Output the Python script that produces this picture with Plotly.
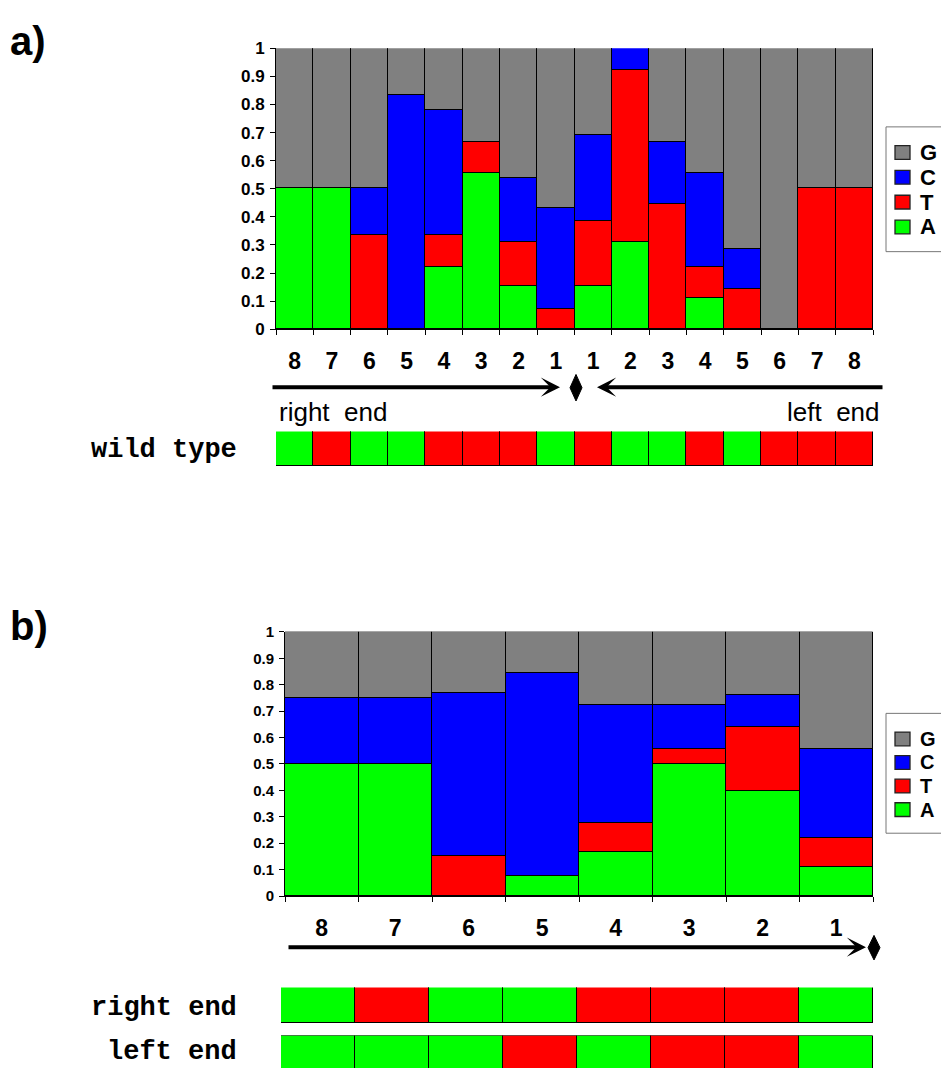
import plotly.graph_objects as go

W, H = 941, 1078

# ---------------- data ----------------
bases = ["A", "T", "C", "G"]
base_colors = {"A": "#00FF00", "T": "#FF0000", "C": "#0000FF", "G": "#808080"}

a_labels = ["8", "7", "6", "5", "4", "3", "2", "1", "1", "2", "3", "4", "5", "6", "7", "8"]
a_A = [0.5, 0.5, 0, 0, 0.222, 0.556, 0.154, 0, 0.154, 0.308, 0, 0.111, 0, 0, 0, 0]
a_T = [0, 0, 0.333, 0, 0.111, 0.111, 0.154, 0.071, 0.231, 0.615, 0.444, 0.111, 0.143, 0, 0.5, 0.5]
a_C = [0, 0, 0.167, 0.833, 0.445, 0, 0.230, 0.358, 0.307, 0.077, 0.223, 0.334, 0.143, 0, 0, 0]
a_G = [0.5, 0.5, 0.5, 0.167, 0.222, 0.333, 0.462, 0.571, 0.308, 0, 0.333, 0.444, 0.714, 1, 0.5, 0.5]

b_labels = ["8", "7", "6", "5", "4", "3", "2", "1"]
b_A = [0.5, 0.5, 0, 0.077, 0.167, 0.5, 0.4, 0.111]
b_T = [0, 0, 0.154, 0, 0.111, 0.056, 0.24, 0.111]
b_C = [0.25, 0.25, 0.615, 0.769, 0.444, 0.166, 0.12, 0.334]
b_G = [0.25, 0.25, 0.231, 0.154, 0.278, 0.278, 0.24, 0.444]

wild_type = list("ATAATTTATAATATTT")
right_end = list("ATAATTTA")
left_end = list("AAATATTA")

y_ticks = [0, 0.1, 0.2, 0.3, 0.4, 0.5, 0.6, 0.7, 0.8, 0.9, 1]
y_ticktext = ["0", "0.1", "0.2", "0.3", "0.4", "0.5", "0.6", "0.7", "0.8", "0.9", "1"]


def px(x):
    return x / W


def py(y):
    return 1 - y / H


ARIAL = "Arial, Liberation Sans, sans-serif"
NARROW = "Liberation Sans Narrow, Arial Narrow, Liberation Sans, sans-serif"
MONO = "Courier New, Liberation Mono, monospace"

fig = go.Figure()

# ---------------- panel a bars ----------------
a_vals = {"A": a_A, "T": a_T, "C": a_C, "G": a_G}
xa = list(range(len(a_labels)))
for b in bases:
    fig.add_trace(go.Bar(
        x=xa, y=a_vals[b], name=b, xaxis="x", yaxis="y", showlegend=False,
        marker=dict(color=base_colors[b], line=dict(color="black", width=1.3)),
    ))

# ---------------- panel b bars ----------------
b_vals = {"A": b_A, "T": b_T, "C": b_C, "G": b_G}
xb = list(range(len(b_labels)))
for b in bases:
    fig.add_trace(go.Bar(
        x=xb, y=b_vals[b], name=b, xaxis="x2", yaxis="y2", showlegend=False,
        marker=dict(color=base_colors[b], line=dict(color="black", width=1.3)),
    ))

# ---------------- sequence strips ----------------
def strip(seq, xax, yax):
    fig.add_trace(go.Bar(
        x=list(range(len(seq))), y=[1] * len(seq), xaxis=xax, yaxis=yax,
        showlegend=False, hoverinfo="skip",
        marker=dict(color=[base_colors[s] for s in seq], line=dict(color="black", width=1.3)),
    ))

strip(wild_type, "x3", "y3")
strip(right_end, "x4", "y4")
strip(left_end, "x5", "y5")

# ---------------- axes ----------------
def bar_xaxis(labels, dom, size):
    n = len(labels)
    return dict(
        domain=dom, range=[-0.5, n - 0.5], tickmode="array",
        tickvals=list(range(n)), ticktext=labels, ticks="",
        tickfont=dict(family=NARROW, size=size, color="black", weight="bold"),
        ticklabelstandoff=11,
        showline=True, linecolor="black", linewidth=1, showgrid=False, zeroline=False,
        minor=dict(tickvals=[i - 0.5 for i in range(n + 1)], ticks="outside",
                   ticklen=5, tickcolor="black", tickwidth=1),
        fixedrange=True,
    )


def bar_yaxis(dom, anchor, size):
    return dict(
        domain=dom, range=[0, 1], anchor=anchor, tickmode="array",
        tickvals=y_ticks, ticktext=y_ticktext, ticks="outside", ticklen=5,
        tickcolor="black", tickfont=dict(family=ARIAL, size=size, color="black", weight="bold"),
        ticklabelstandoff=2,
        showline=True, linecolor="black", linewidth=1, showgrid=False, zeroline=False,
        fixedrange=True,
    )


def hidden(dom, rng, anchor):
    return dict(domain=dom, range=rng, anchor=anchor, visible=False, fixedrange=True,
                showgrid=False, zeroline=False)


fig.update_layout(
    width=W, height=H, autosize=False,
    margin=dict(l=0, r=0, t=0, b=0),
    paper_bgcolor="white", plot_bgcolor="white",
    barmode="stack", bargap=0, showlegend=False,
    xaxis=dict(**bar_xaxis(a_labels, [px(276), px(873)], 23), anchor="y"),
    yaxis=bar_yaxis([py(326), py(40)], "x", 17),
    xaxis2=dict(**bar_xaxis(b_labels, [px(285), px(873)], 23), anchor="y2"),
    yaxis2=bar_yaxis([py(903), py(634)], "x2", 15),
    xaxis3=hidden([px(276), px(873)], [-0.5, len(wild_type) - 0.5], "y3"),
    yaxis3=hidden([py(466), py(430)], [0, 1], "x3"),
    xaxis4=hidden([px(281), px(873)], [-0.5, len(right_end) - 0.5], "y4"),
    yaxis4=hidden([py(1033), py(996)], [0, 1], "x4"),
    xaxis5=hidden([px(281), px(873)], [-0.5, len(left_end) - 0.5], "y5"),
    yaxis5=hidden([0, py(1045)], [0.12, 1], "x5"),
)

shapes = []
ann = []

# ---------------- legends (drawn from the bases list) ----------------
def legend_box(x0, y0, y1, first_y, step, sq_w, sq_h, font_size):
    shapes.append(dict(type="rect", xref="paper", yref="paper",
                       x0=px(x0), x1=px(W + 5), y0=py(y1), y1=py(y0),
                       fillcolor="white", line=dict(color="#777", width=1)))
    for i, b in enumerate(reversed(bases)):
        yc = first_y + i * step
        shapes.append(dict(type="rect", xref="paper", yref="paper",
                           x0=px(x0 + 9), x1=px(x0 + 9 + sq_w),
                           y0=py(yc + sq_h / 2), y1=py(yc - sq_h / 2),
                           fillcolor=base_colors[b], line=dict(color="#222", width=1.3)))
        ann.append(dict(text=b, x=px(x0 + 32), y=py(yc), xref="paper", yref="paper",
                        xanchor="left", yanchor="middle", showarrow=False,
                        font=dict(family=ARIAL, size=font_size, color="black", weight="bold")))

legend_box(886, 120, 247, 146, 25.3, 15, 14, 22)
legend_box(886, 717, 839, 743, 24, 15, 14, 20)

# ---------------- text annotations ----------------
ann.append(dict(text="a)", x=px(8), y=py(33), xref="paper", yref="paper", xanchor="left",
                yanchor="middle", showarrow=False,
                font=dict(family=ARIAL, size=40, color="black", weight="bold")))
ann.append(dict(text="b)", x=px(8), y=py(628), xref="paper", yref="paper", xanchor="left",
                yanchor="middle", showarrow=False,
                font=dict(family=ARIAL, size=40, color="black", weight="bold")))
ann.append(dict(text="right  end", x=px(277), y=py(410), xref="paper", yref="paper",
                xanchor="left", yanchor="middle", showarrow=False,
                font=dict(family=NARROW, size=26, color="black")))
ann.append(dict(text="left  end", x=px(882), y=py(410), xref="paper", yref="paper",
                xanchor="right", yanchor="middle", showarrow=False,
                font=dict(family=NARROW, size=26, color="black")))
for txt, yy in [("wild type", 449), ("right end", 1017), ("left end", 1062)]:
    ann.append(dict(text=txt, x=px(239), y=py(yy), xref="paper", yref="paper",
                    xanchor="right", yanchor="middle", showarrow=False,
                    font=dict(family=MONO, size=27, color="black", weight="bold")))

# arrows
def arrow(x_head, x_tail, y):
    return dict(x=px(x_head), y=py(y), xref="paper", yref="paper", text="",
                showarrow=True, ax=x_tail - x_head, ay=0, axref="pixel", ayref="pixel",
                arrowhead=3, arrowsize=0.8, arrowwidth=4, arrowcolor="black")

ann.append(arrow(560, 271, 385))
ann.append(arrow(597, 884, 385))
ann.append(arrow(866, 287, 955))


# diamonds
def diamond(xc, y0, y1, hw=6):
    ym = (y0 + y1) / 2
    path = (f"M {px(xc)},{py(y0)} L {px(xc + hw)},{py(ym)} L {px(xc)},{py(y1)} "
            f"L {px(xc - hw)},{py(ym)} Z")
    return dict(type="path", path=path, xref="paper", yref="paper",
                fillcolor="black", line=dict(color="black", width=1))

shapes.append(diamond(576, 372, 399))
shapes.append(diamond(874, 943, 968))

fig.update_layout(shapes=shapes, annotations=ann)

fig.write_html(
    "out.html",
    config={"displayModeBar": False},
    post_script=("document.documentElement.style.margin='0';"
                 "document.body.style.margin='0';document.body.style.padding='0';"
                 "document.body.style.overflow='hidden';"),
)
